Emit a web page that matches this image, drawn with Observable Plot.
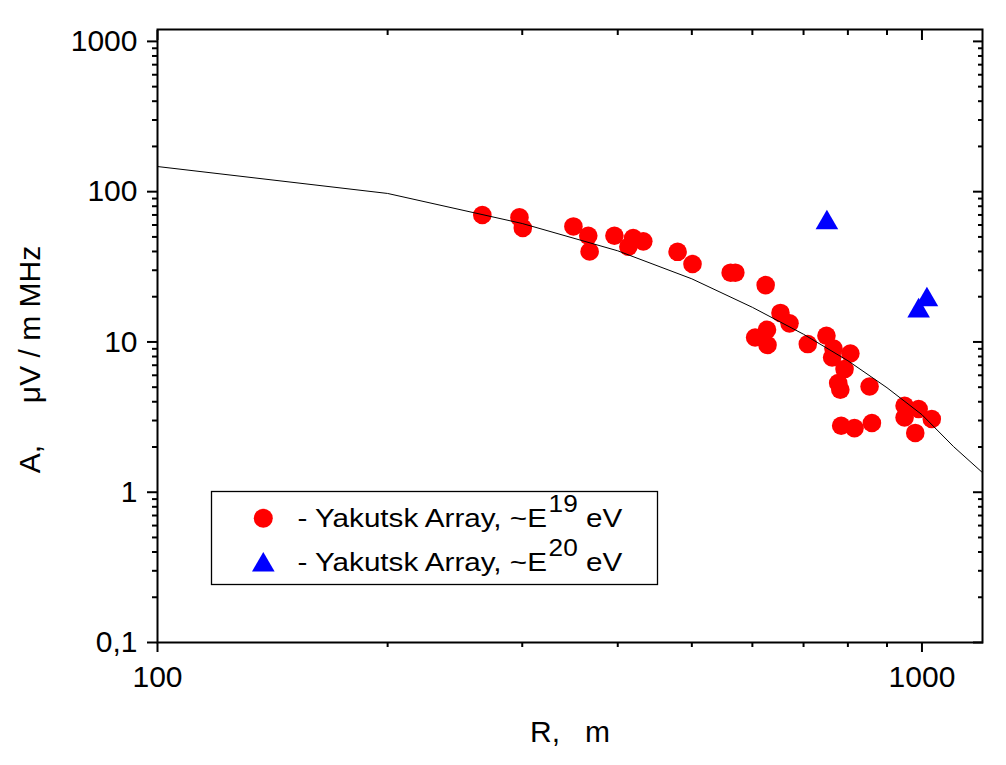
<!DOCTYPE html>
<html><head><meta charset="utf-8">
<script src="https://cdn.jsdelivr.net/npm/d3@7"></script>
<script src="https://cdn.jsdelivr.net/npm/@observablehq/plot@0.6"></script>
<style>body{margin:0;background:#fff;} svg{display:block;}</style>
</head><body><div id="chart"></div>
<script>
// Yakutsk Array, ~E19 eV (red circles)
const e19R = [266, 297.5, 300.5, 350, 366, 367.5, 396, 419, 413, 432, 479, 501, 562, 570, 624.5, 653, 671, 605, 627, 628, 709, 750, 766, 763, 806, 792, 777, 782, 854, 784, 816, 860, 949, 990, 949, 1030, 980];
const e19A = [69.9, 67.4, 57.3, 58.7, 50.9, 40.0, 50.9, 49.1, 43.0, 46.7, 39.8, 33.0, 28.9, 28.9, 23.9, 15.6, 13.3, 10.7, 12.06, 9.54, 9.68, 11.0, 9.05, 7.88, 8.38, 6.60, 5.33, 4.81, 5.05, 2.77, 2.67, 2.89, 3.76, 3.58, 3.14, 3.07, 2.48];
// Yakutsk Array, ~E20 eV (blue triangles)
const e20R = [751, 1015, 990];
const e20A = [62.1, 19.1, 16.1];
// calculated curve
const fitR = [100, 200, 300, 400, 500, 600, 700, 800, 900, 1000, 1100, 1200];
const fitA = [147, 97.3, 61.4, 40.4, 26.3, 17.0, 11.25, 7.50, 4.96, 3.28, 2.01, 1.35];
// ticks
const xMajor = [100, 1000];
const xMajorLabels = ["100", "1000"];
const xMinor = [200, 300, 400, 500, 600, 700, 800, 900];
const yMajor = [0.1, 1, 10, 100, 1000];
const yMajorLabels = ["0,1", "1", "10", "100", "1000"];
const yMinor = [0.2,0.3,0.4,0.5,0.6,0.7,0.8,0.9, 2,3,4,5,6,7,8,9, 20,30,40,50,60,70,80,90, 200,300,400,500,600,700,800,900];
const xTitle = "R,\u00a0\u00a0\u00a0m";
const yTitle = "A,\u00a0\u00a0\u00a0\u00a0\u00a0\u03bcV / m MHz";
const legendText = ["- Yakutsk Array, ~E", "- Yakutsk Array, ~E"];
const legendExp = ["19", "20"];
const legendUnit = "eV";

const e19 = e19R.map((R, i) => ({R, A: e19A[i]}));
const e20 = e20R.map((R, i) => ({R, A: e20A[i]}));
const fit = fitR.map((R, i) => ({R, A: fitA[i]}));

const font = "'Liberation Sans', Arial, sans-serif";
const tk = {strokeWidth: 2, label: null};
const none = () => "";

const chart = Plot.plot({
  width: 1006, height: 765,
  marginLeft: 157, marginRight: 24, marginTop: 29, marginBottom: 123,
  style: {fontFamily: font, fontSize: "30px", background: "#fff", color: "#000"},
  x: {type: "log", domain: [100, 1200]},
  y: {type: "log", domain: [0.1, 1200]},
  marks: [
    Plot.axisX(xMajor, {...tk, anchor: "bottom", tickSize: 10, tickPadding: 13, fontSize: 30, tickFormat: d => xMajorLabels[xMajor.indexOf(d)]}),
    Plot.axisX(xMinor, {...tk, anchor: "bottom", tickSize: 5, tickFormat: none}),
    Plot.axisX(xMajor, {...tk, anchor: "top", tickSize: -10, tickFormat: none}),
    Plot.axisX(xMinor, {...tk, anchor: "top", tickSize: -5, tickFormat: none}),
    Plot.axisY(yMajor, {...tk, anchor: "left", tickSize: 10, tickPadding: 10, fontSize: 30, tickFormat: d => yMajorLabels[yMajor.indexOf(d)]}),
    Plot.axisY(yMinor, {...tk, anchor: "left", tickSize: 5, tickFormat: none}),
    Plot.axisY(yMajor, {...tk, anchor: "right", tickSize: -10, tickFormat: none}),
    Plot.axisY(yMinor, {...tk, anchor: "right", tickSize: -5, tickFormat: none}),
    Plot.frame({stroke: "#000", strokeWidth: 2}),
    Plot.dot(e19, {x: "R", y: "A", r: 9.3, fill: "#ff0000", stroke: null}),
    Plot.dot(e20, {x: "R", y: "A", r: 8.4, symbol: "triangle", fill: "#0000ff", stroke: null}),
    Plot.line(fit, {x: "R", y: "A", stroke: "#000", strokeWidth: 1}),
    Plot.text([xTitle], {frameAnchor: "bottom", textAnchor: "middle", lineAnchor: "middle", dy: 89.4, fontSize: 30, fill: "#000"}),
    Plot.text([yTitle], {frameAnchor: "left", textAnchor: "middle", lineAnchor: "middle", rotate: -90, dx: -127.5, dy: 23.5, fontSize: 30, fill: "#000"})
  ]
});

// legend
const svg = d3.select(chart);
const lg = svg.append("g")
  .style("font-family", font).style("font-size", "26px").style("text-anchor", "start").style("fill", "#000");
lg.append("rect").attr("x", 211.5).attr("y", 491.5).attr("width", 446).attr("height", 93)
  .style("fill", "none").style("stroke", "#000").style("stroke-width", "1.3px");
lg.append("circle").attr("cx", 263.3).attr("cy", 518.3).attr("r", 9.5).style("fill", "#ff0000");
lg.append("path").attr("d", d3.symbol(d3.symbolTriangle, Math.PI * 8.4 * 8.4)())
  .attr("transform", "translate(263.3,565)").style("fill", "#0000ff");
const baselines = [527, 571];
legendText.forEach((t, i) => {
  const tx = lg.append("text")
    .attr("transform", `translate(297.5,${baselines[i]}) scale(1.14,1)`)
    .style("font-size", "26px").style("text-anchor", "start");
  tx.append("tspan").text(t);
  tx.append("tspan").style("font-size", "23px").attr("dx", 1.5).attr("dy", -15).text(legendExp[i]);
  tx.append("tspan").style("font-size", "26px").attr("dy", 15).text("\u00a0" + legendUnit);
});

document.getElementById("chart").append(chart);
</script>
</body></html>
